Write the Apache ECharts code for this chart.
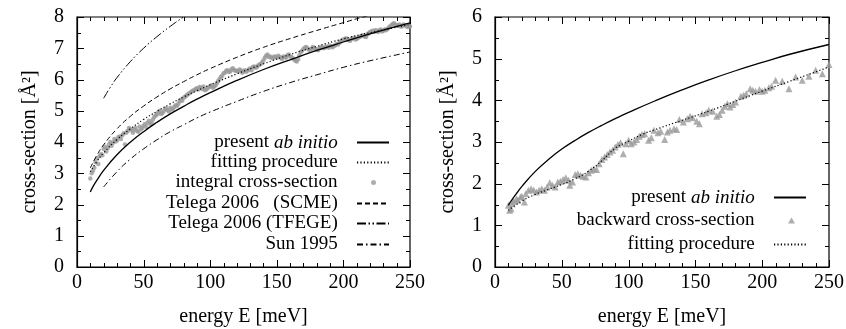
<!DOCTYPE html>
<html><head><meta charset="utf-8">
<script src="https://cdn.jsdelivr.net/npm/echarts@6/dist/echarts.min.js"></script>
<style>html,body{margin:0;padding:0;background:#fff}#c{width:846px;height:329px}</style>
</head><body><div id="c"></div>
<script>
// ---------- data ----------
const xTickLabels = [0, 50, 100, 150, 200, 250];
const leftYTickLabels = [0, 1, 2, 3, 4, 5, 6, 7, 8];
const rightYTickLabels = [0, 1, 2, 3, 4, 5, 6];

// left panel: integral cross-section (grey dots)
const intE = [10,12,14,16,18,20,22,24,26,28,30,32,34,36,38,40,42,44,46,48,50,52,54,56,58,60,62,64,66,68,70,72,74,76,78,80,82,84,86,88,90,92,94,96,98,100,102,104,106,108,110,112,114,116,118,120,122,124,126,128,130,132,134,136,138,140,142,144,146,148,150,152,154,156,158,160,162,164,166,168,170,172,174,176,178,180,182,184,186,188,190,192,194,196,198,200,202,204,206,208,210,212,214,216,218,220,222,224,226,228,230,232,234,236,238,240,242,244,246,248,250];
const intV = [2.83,3.08,3.35,3.30,3.62,3.78,3.70,3.92,3.88,4.10,4.05,4.18,4.22,3.92,4.35,4.42,4.30,4.45,4.33,4.40,4.52,4.48,4.68,4.62,4.80,4.88,5.00,4.92,5.05,5.02,5.10,5.06,5.18,5.22,5.35,5.42,5.48,5.55,5.62,5.66,5.72,5.76,5.70,5.66,5.72,5.78,5.74,5.82,5.95,6.08,6.20,6.28,6.24,6.33,6.30,6.28,6.32,6.22,6.30,6.28,6.35,6.40,6.38,6.45,6.50,6.62,6.76,6.72,6.70,6.74,6.70,6.73,6.66,6.72,6.78,6.74,6.68,6.60,6.65,6.88,6.98,7.04,6.95,6.98,7.02,6.96,7.00,7.04,7.02,7.06,7.08,7.03,7.10,7.12,7.22,7.28,7.32,7.26,7.30,7.34,7.30,7.36,7.40,7.38,7.45,7.52,7.56,7.58,7.52,7.60,7.56,7.58,7.66,7.74,7.80,7.72,7.76,7.70,7.74,7.68,7.70];
const intE2 = [11,13,15,17,19,21,23,25,27,29,31,33,35,37,39,41,43,45,47,49,51,53,55,57,59,61,63,65,67,69,71,73,75,77,79,81,83,85,87,89,91,93,95,97,99,101,103,105,107,109,111,113,115,117,119,121,123,125,127,129,131,133,135,137,139,141,143,145,147,149,151,153,155,157,159,161,163,165,167,169,171,173,175,177,179,181,183,185,187,189,191,193,195,197,199,201,203,205,207,209,211,213,215,217,219,221,223,225,227,229,231,233,235,237,239,241,243,245,247,249];
const intV2 = [3.00,3.18,3.48,3.55,3.58,3.85,3.80,4.00,3.98,4.02,4.15,4.10,4.28,4.30,4.45,4.38,4.40,4.36,4.50,4.45,4.58,4.62,4.58,4.72,4.85,4.95,4.90,4.98,5.08,4.98,5.04,5.12,5.15,5.30,5.32,5.44,5.52,5.58,5.64,5.70,5.68,5.74,5.78,5.68,5.76,5.82,5.78,5.88,6.02,6.12,6.22,6.30,6.26,6.36,6.28,6.25,6.30,6.26,6.25,6.32,6.30,6.42,6.40,6.48,6.55,6.70,6.80,6.74,6.68,6.72,6.76,6.70,6.74,6.70,6.80,6.72,6.64,6.58,6.78,6.92,7.02,7.00,6.96,7.04,6.98,6.94,7.02,7.00,7.04,7.02,7.06,7.08,7.14,7.18,7.26,7.30,7.28,7.24,7.32,7.28,7.34,7.38,7.42,7.36,7.48,7.54,7.52,7.56,7.58,7.54,7.60,7.62,7.70,7.78,7.76,7.74,7.70,7.76,7.72,7.70];

// left panel: present ab initio (solid)
const abE = [10,12,15,20,30,40,50,60,70,80,90,100,120,140,160,180,200,220,250];
const abV = [2.40,2.57,2.78,3.09,3.59,3.99,4.33,4.63,4.90,5.14,5.37,5.58,5.97,6.32,6.63,6.93,7.20,7.46,7.81];
// left panel: fitting procedure (dotted)
const fitE = [10,15,20,30,40,50,60,70,80,90,100,120,140,160,180,200,220,250];
const fitV = [3.05,3.38,3.65,4.08,4.42,4.72,4.98,5.22,5.44,5.64,5.83,6.18,6.50,6.80,7.06,7.30,7.50,7.76];
// Telega 2006 (SCME) dashed
const scmeE = [10,15,20,30,40,50,60,70,80,90,100,120,140,160,180,200,215,250];
const scmeV = [3.17,3.58,3.91,4.42,4.82,5.15,5.44,5.70,5.93,6.15,6.35,6.71,7.03,7.31,7.57,7.82,8.00,8.36];
// Telega 2006 (TFEGE) dash-dot-dot
const tfegeE = [20,25,30,40,50,60,70,80,90];
const tfegeV = [5.40,5.75,6.06,6.57,7.00,7.37,7.70,8.00,8.27];
// Sun 1995 dash-dot
const sunE = [20,30,40,50,60,70,80,90,100,120,140,160,180,200,220,250];
const sunV = [2.56,3.05,3.45,3.78,4.07,4.33,4.55,4.77,4.96,5.30,5.62,5.90,6.15,6.39,6.60,6.88];

// right panel: backward cross-section (grey triangles)
const bwE = [10,11,12,13,14,16,17,19,20,22,23,25,27,29,31,33,35,37,39,41,43,45,47,49,51,53,55,56,58,60,62,64,66,68,70,72,74,76,78,80,82,84,86,88,90,92,94,96,98,100,102,104,106,108,110,112,115,117,119,122,124,127,129,131,134,136,138,141,144,146,148,151,153,155,158,160,163,166,168,170,172,174,176,178,180,184,186,188,191,193,195,198,200,202,205,207,210,215,220,225,230,235,240,245,250];
const bwV = [1.48,1.36,1.40,1.52,1.58,1.64,1.60,1.68,1.70,1.56,1.76,1.84,1.88,1.85,1.80,1.84,1.88,1.84,1.92,2.02,1.96,1.92,2.04,2.06,2.10,2.14,2.08,1.96,2.04,2.22,2.24,2.20,2.18,2.16,2.26,2.32,2.36,2.34,2.48,2.58,2.64,2.70,2.76,2.80,2.88,2.94,2.98,2.72,2.96,3.04,2.96,3.00,3.06,3.14,3.18,3.20,3.04,3.10,3.28,3.22,3.26,3.06,3.24,3.28,3.32,3.30,3.54,3.48,3.56,3.62,3.58,3.50,3.44,3.68,3.70,3.76,3.74,3.62,3.66,3.76,3.86,3.92,3.84,3.90,3.96,4.10,4.12,4.16,4.28,4.24,4.22,4.26,4.22,4.24,4.30,4.34,4.48,4.46,4.28,4.56,4.48,4.58,4.72,4.64,4.86];
// right panel: present ab initio (solid)
const abRE = [10,12,16,20,30,40,50,60,70,80,90,100,120,140,160,180,200,220,250];
const abRV = [1.48,1.58,1.76,1.93,2.29,2.58,2.83,3.04,3.23,3.40,3.56,3.71,3.99,4.25,4.49,4.71,4.91,5.10,5.34];
// right panel: fitting procedure (dotted)
const fitRE = [10,20,30,40,50,60,70,80,90,100,110,120,140,160,180,200,220,250];
const fitRV = [1.36,1.58,1.74,1.86,1.98,2.12,2.30,2.55,2.85,3.02,3.18,3.30,3.52,3.74,3.98,4.22,4.45,4.80];

// ---------- chart ----------
const zip = (a, b) => a.map((x, i) => [x, b[i]]);
const FONT = 'Liberation Serif';
const BLACK = '#000';
const GREY = '#9a9a9a';

function xAxis(grid) {
  return {
    type: 'value', gridIndex: grid, min: 0, max: 250, interval: 50,
    axisLine: {show: true, onZero: false, lineStyle: {color: BLACK, width: 1.2}},
    axisTick: {show: false}, minorTick: {show: false}, splitLine: {show: false},
    axisLabel: {color: BLACK, fontFamily: FONT, fontSize: 20, margin: 6,
      formatter: v => xTickLabels.includes(v) ? String(v) : ''},
    name: 'energy E [meV]', nameLocation: 'middle', nameGap: 40,
    nameTextStyle: {color: BLACK, fontFamily: FONT, fontSize: 20}
  };
}
function yAxis(grid, max, labels) {
  return {
    type: 'value', gridIndex: grid, min: 0, max: max, interval: 1,
    axisLine: {show: true, onZero: false, lineStyle: {color: BLACK, width: 1.2}},
    axisTick: {show: false}, minorTick: {show: false}, splitLine: {show: false},
    axisLabel: {color: BLACK, fontFamily: FONT, fontSize: 20, margin: 13,
      formatter: v => labels.includes(v) ? String(v) : ''},
    name: 'cross-section [Å²]', nameLocation: 'middle', nameGap: 37,
    nameTextStyle: {color: BLACK, fontFamily: FONT, fontSize: 20}
  };
}
function line(name, idx, e, v, type, w) {
  return {
    name, type: 'line', xAxisIndex: idx, yAxisIndex: idx, data: zip(e, v),
    smooth: true, symbol: 'none', clip: true, z: 3,
    lineStyle: {color: BLACK, width: w || 1, type: type},
    itemStyle: {color: BLACK}
  };
}

const DOT = [1.2, 2.2];
const DASH = [5, 3];
const DASHDOTDOT = [9, 2.5, 1.5, 2.5, 1.5, 2.5];
const DASHDOT = [6, 3, 1.5, 3];

const series = [
  {name: 'integral cross-section', type: 'scatter', xAxisIndex: 0, yAxisIndex: 0, z: 2,
    data: zip(intE, intV).concat(zip(intE2, intV2)), symbol: 'circle', symbolSize: 4.5, itemStyle: {color: GREY}},
  line('present ab initio', 0, abE, abV, 'solid', 1.3),
  line('fitting procedure', 0, fitE, fitV, DOT, 1.2),
  line('Telega 2006   (SCME)', 0, scmeE, scmeV, DASH, 1),
  line('Telega 2006 (TFEGE)', 0, tfegeE, tfegeV, DASHDOTDOT, 1),
  line('Sun 1995', 0, sunE, sunV, DASHDOT, 1),
  {name: 'backward cross-section', type: 'scatter', xAxisIndex: 1, yAxisIndex: 1, z: 2,
    data: zip(bwE, bwV), symbol: 'triangle', symbolSize: 7, itemStyle: {color: GREY}},
  line('present ab initio', 1, abRE, abRV, 'solid', 1.3),
  line('fitting procedure', 1, fitRE, fitRV, DOT, 1.2)
];

const legendTextStyle = {
  color: BLACK, fontFamily: FONT, fontSize: 19,
  rich: {i: {fontStyle: 'italic', fontFamily: FONT, fontSize: 19, color: BLACK}}
};
const label = n => (n === 'present ab initio' ? 'present {i|ab initio}' : n);
// [name, row centre y, right offset, icon width, icon height, trailing spaces, is line]
const legendRows = [
  ['present ab initio', 144, 456, 32, 5, 3, true],
  ['fitting procedure', 164, 456, 32, 5, 3, true],
  ['integral cross-section', 184, 470, 5, 5, 6, false],
  ['Telega 2006   (SCME)', 205, 456, 32, 5, 3, true],
  ['Telega 2006 (TFEGE)', 225, 456, 32, 5, 3, true],
  ['Sun 1995', 246, 456, 32, 5, 3, true],
  ['present ab initio', 199, 39, 32, 5, 3, true],
  ['backward cross-section', 222, 51, 7, 6, 6, false],
  ['fitting procedure', 246, 39, 32, 5, 3, true]
];
const legends = legendRows.map(([n, y, right, w, h, sp, isLine]) => {
  const lg = {
    data: [n], right: right, top: y - 11, orient: 'horizontal', align: 'right', padding: 0,
    itemWidth: w, itemHeight: h, selectedMode: false, textStyle: legendTextStyle,
    formatter: nm => label(nm) + ' '.repeat(sp)
  };
  if (isLine) lg.itemStyle = {color: 'rgba(0,0,0,0)', borderColor: 'rgba(0,0,0,0)', borderWidth: 0};
  return lg;
});

const gridBase = {show: true, borderColor: BLACK, borderWidth: 1.2, backgroundColor: 'rgba(0,0,0,0)',
  containLabel: false, outerBoundsMode: 'none'};

const chart = echarts.init(document.getElementById('c'), null, {renderer: 'canvas'});
chart.setOption({
  animation: false,
  backgroundColor: '#fff',
  grid: [
    Object.assign({left: 77, right: 436, top: 17, bottom: 62}, gridBase),
    Object.assign({left: 495, right: 17, top: 17, bottom: 62}, gridBase)
  ],
  xAxis: [xAxis(0), xAxis(1)],
  yAxis: [yAxis(0, 8, leftYTickLabels), yAxis(1, 6, rightYTickLabels)],
  legend: legends,
  series: series
});

// inside tick marks on all four sides, positioned through the chart's own axis scales
function tickGraphics(gridIndex, yMax) {
  const els = [];
  const px = (x, y) => chart.convertToPixel({gridIndex: gridIndex}, [x, y]);
  for (let x = 0; x <= 250; x += 10) {
    const len = x % 50 === 0 ? 7 : 4;
    const b = px(x, 0), t = px(x, yMax);
    const cx = Math.round(b[0]) + 0.5;
    els.push({type: 'line', z: 100, silent: true, shape: {x1: cx, y1: b[1], x2: cx, y2: b[1] - len}, style: {stroke: BLACK, lineWidth: 1}});
    els.push({type: 'line', z: 100, silent: true, shape: {x1: cx, y1: t[1], x2: cx, y2: t[1] + len}, style: {stroke: BLACK, lineWidth: 1}});
  }
  for (let k = 0; k <= yMax * 2; k++) {
    const len = k % 2 === 0 ? 7 : 4;
    const l = px(0, k / 2), r = px(250, k / 2);
    const cy = Math.round(l[1]) + 0.5;
    els.push({type: 'line', z: 100, silent: true, shape: {x1: l[0], y1: cy, x2: l[0] + len, y2: cy}, style: {stroke: BLACK, lineWidth: 1}});
    els.push({type: 'line', z: 100, silent: true, shape: {x1: r[0], y1: cy, x2: r[0] - len, y2: cy}, style: {stroke: BLACK, lineWidth: 1}});
  }
  return els;
}
chart.setOption({graphic: {elements: tickGraphics(0, 8).concat(tickGraphics(1, 6))}});
</script>
</body></html>
